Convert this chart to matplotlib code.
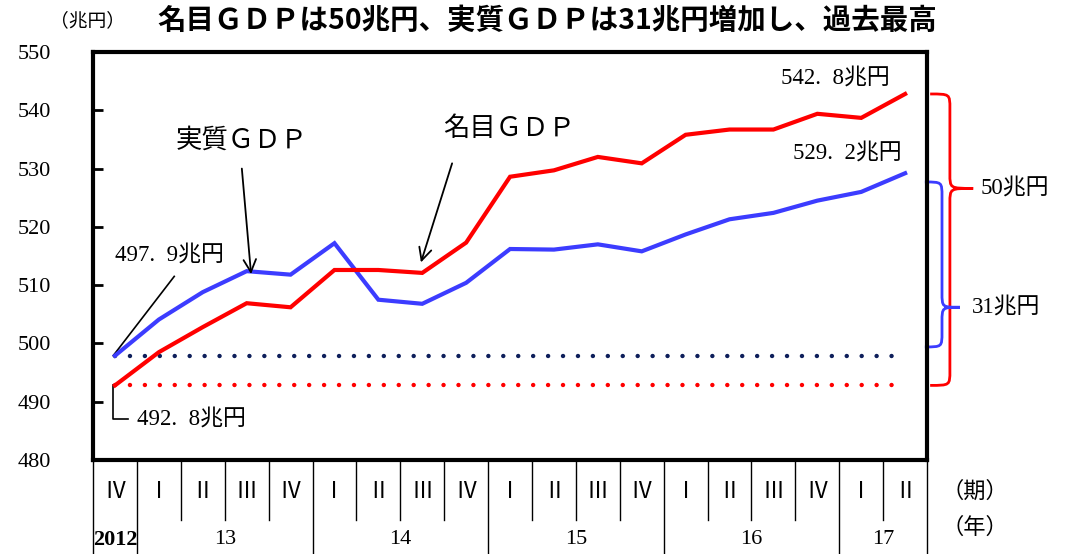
import matplotlib
matplotlib.use("Agg")
import matplotlib.pyplot as plt
from matplotlib.path import Path
from matplotlib.patches import PathPatch
import matplotlib.transforms as mtransforms

CJK = ['Noto Sans CJK JP', 'DejaVu Sans']
SERIF = ['Liberation Serif', 'Noto Sans CJK JP']
plt.rcParams['font.family'] = CJK

# data (trillion yen, quarterly, 2012 IV .. 2017 II)
quarters = ['Ⅳ', 'Ⅰ', 'Ⅱ', 'Ⅲ', 'Ⅳ', 'Ⅰ', 'Ⅱ', 'Ⅲ', 'Ⅳ', 'Ⅰ',
            'Ⅱ', 'Ⅲ', 'Ⅳ', 'Ⅰ', 'Ⅱ', 'Ⅲ', 'Ⅳ', 'Ⅰ', 'Ⅱ']
nominal = [492.8, 498.5, 502.8, 506.9, 506.2, 512.6, 512.6, 512.1, 517.3, 528.6,
           529.7, 532.0, 530.9, 535.8, 536.7, 536.7, 539.4, 538.7, 542.8]
real = [497.9, 504.1, 508.8, 512.4, 511.8, 517.2, 507.5, 506.8, 510.4, 516.2,
        516.1, 517.0, 515.8, 518.7, 521.3, 522.4, 524.5, 526.0, 529.2]
years = ['2012', '13', '14', '15', '16', '17']
year_spans = [(0, 0), (1, 4), (5, 8), (9, 12), (13, 16), (17, 18)]

RED = '#FF0000'
BLUE = '#3C3CFF'
NAVY = '#0E1F5B'


def fmt(v):
    # wide decimal point like the Mincho original
    return f'{v:.1f}'.replace('.', '.\u2002') + '兆円'


fig = plt.figure(figsize=(10.73, 5.54), dpi=100)
ax = fig.add_axes([0.0867, 0.1697, 0.7773, 0.7364])

n = len(nominal)
xs = list(range(n))

# baselines
ax.plot([0, n - 1], [real[0], real[0]], color=NAVY, lw=3.2,
        linestyle=(0, (0.01, 3.35)), dash_capstyle='round')
ax.plot([0, n - 1], [nominal[0], nominal[0]], color=RED, lw=3.2,
        linestyle=(0, (0.01, 3.35)), dash_capstyle='round')

ax.plot(xs, real, color=BLUE, lw=3.0, solid_joinstyle='miter', zorder=3)
ax.plot(xs, nominal, color=RED, lw=3.0, solid_joinstyle='miter', zorder=4)

ax.set_xlim(-0.5, n - 0.5)
ax.set_ylim(480, 550)
ax.set_yticks(range(480, 551, 10))
ax.set_xticks([])
ax.tick_params(axis='y', direction='in', length=7, width=2, pad=30)
for lab in ax.get_yticklabels():
    lab.set_fontfamily(SERIF)
    lab.set_fontsize(16)
for s in ax.spines.values():
    s.set_linewidth(3)

# annotations
ax.text(2.89, 534.9, '実質ＧＤＰ', fontsize=19, fontfamily=CJK,
        ha='center', va='center')
ax.annotate('', xy=(3.10, 511.9), xytext=(2.89, 530.0),
            arrowprops=dict(arrowstyle='->,head_length=0.9,head_width=0.45',
                            color='black', lw=1.3, shrinkA=0, shrinkB=0))
ax.text(8.97, 536.9, '名目ＧＤＰ', fontsize=19, fontfamily=CJK,
        ha='center', va='center')
ax.annotate('', xy=(6.97, 513.9), xytext=(7.68, 530.9),
            arrowprops=dict(arrowstyle='->,head_length=0.9,head_width=0.45',
                            color='black', lw=1.3, shrinkA=0, shrinkB=0))

ax.text(0.0, 515.1, fmt(real[0]), fontsize=16.5, fontfamily=SERIF,
        ha='left', va='center')
ax.plot([1.35, -0.04], [511.5, real[0]], color='black', lw=1.2)
ax.plot([-0.04, -0.04, 0.30], [nominal[0], 487.1, 487.1], color='black', lw=1.2)
ax.text(0.5, 487.1, fmt(nominal[0]), fontsize=16.5, fontfamily=SERIF,
        ha='left', va='center')
ax.text(16.42, 545.5, fmt(nominal[-1]), fontsize=16.5, fontfamily=SERIF,
        ha='center', va='center')
ax.text(16.68, 532.6, fmt(real[-1]), fontsize=16.5, fontfamily=SERIF,
        ha='center', va='center')


def brace(x0, x1, x2, ytop, ymid, ybot, r, color):
    verts = [(x0, ytop), (x1, ytop), (x1, ytop), (x1, ytop - r),
             (x1, ymid + r),
             (x1, ymid), (x1, ymid), (x2, ymid),
             (x1, ymid), (x1, ymid), (x1, ymid - r),
             (x1, ybot + r),
             (x1, ybot), (x1, ybot), (x0, ybot)]
    codes = [Path.MOVETO, Path.CURVE4, Path.CURVE4, Path.CURVE4,
             Path.LINETO,
             Path.CURVE4, Path.CURVE4, Path.CURVE4,
             Path.CURVE4, Path.CURVE4, Path.CURVE4,
             Path.LINETO,
             Path.CURVE4, Path.CURVE4, Path.CURVE4]
    ax.add_patch(PathPatch(Path(verts, codes), fc='none', ec=color, lw=2,
                           clip_on=False))


brace(18.57, 19.02, 19.55, nominal[-1], 526.6, nominal[0], 2.5, RED)
brace(18.45, 18.84, 19.25, real[-1] - 1.5, 506.2, real[0] + 1.5, 2.5, BLUE)
ax.text(19.72, 526.6, f'{nominal[-1] - nominal[0]:.0f}兆円', fontsize=16.5,
        fontfamily=SERIF, ha='left', va='center', clip_on=False)
ax.text(19.52, 506.2, f'{real[-1] - real[0]:.0f}兆円', fontsize=16.5,
        fontfamily=SERIF, ha='left', va='center', clip_on=False)

# category table under the axes
tr = mtransforms.blended_transform_factory(ax.transData, ax.transAxes)
y_q, y_y, y_short, y_bot = -0.078, -0.196, -0.147, -0.235
for i, q in enumerate(quarters):
    ax.text(i, y_q, q, transform=tr, fontsize=16, fontfamily=CJK,
            ha='center', va='center')
year_edges = {s - 0.5 for s, e in year_spans} | {n - 0.5}
for k in range(n + 1):
    xe = k - 0.5
    yb = y_bot if xe in year_edges else y_short
    ax.plot([xe, xe], [0, yb], transform=tr, color='black', lw=1,
            clip_on=False)
for (s, e), yl in zip(year_spans, years):
    ax.text((s + e) / 2, y_y, yl, transform=tr, fontsize=16,
            fontfamily=SERIF, ha='center', va='center',
            fontweight='bold' if yl == '2012' else 'normal')
ax.text(n + 0.6, y_q, '（期）', transform=tr, fontsize=16, fontfamily=CJK,
        ha='center', va='center')
ax.text(n + 0.6, -0.165, '（年）', transform=tr, fontsize=16, fontfamily=CJK,
        ha='center', va='center')

# titles
fig.text(0.082, 0.962, '（兆円）', fontsize=13.5, fontfamily=CJK,
         ha='center', va='center')
fig.text(0.51, 0.962, '名目ＧＤＰは50兆円、実質ＧＤＰは31兆円増加し、過去最高',
         fontsize=20.5, fontweight='bold', fontfamily=CJK,
         ha='center', va='center')

fig.savefig('out.png', dpi=100)
